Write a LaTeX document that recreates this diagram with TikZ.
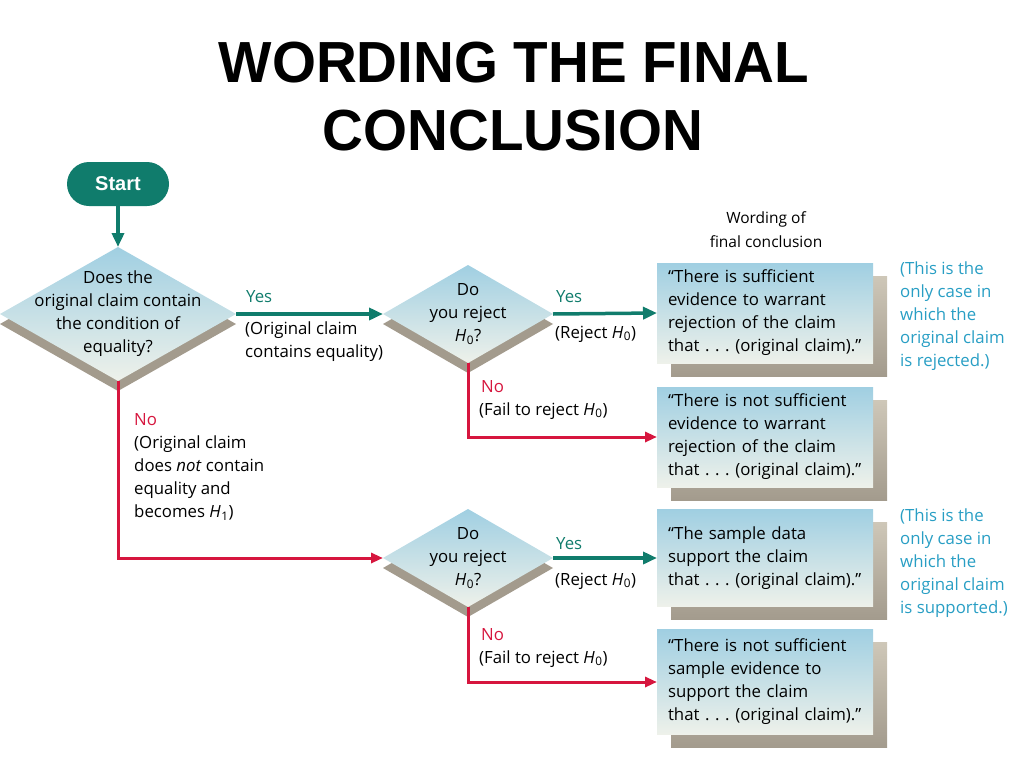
\documentclass[tikz,border=0pt]{standalone}
\usepackage{fontspec}
\setmainfont{Open Sans}
\newfontfamily\titlefont[FakeStretch=0.975]{Liberation Sans}
\newfontfamily\startfont{Liberation Sans}
\usetikzlibrary{shapes.geometric,arrows.meta,positioning}
\definecolor{flowteal}{RGB}{16,124,108}
\definecolor{flowred}{RGB}{214,22,62}
\definecolor{notecyan}{RGB}{40,158,196}
\definecolor{topblue}{RGB}{160,207,226}
\definecolor{paleblue}{RGB}{238,241,234}
\definecolor{shadetan}{RGB}{163,155,141}
\definecolor{shadelight}{RGB}{206,199,184}
\newcommand{\hyp}[1]{\textit{H}\kern0.5pt\textsubscript{#1}}
\frenchspacing

\begin{document}
\begin{tikzpicture}[x=1pt,y=-1pt,
    decision/.style={diamond, inner sep=0pt, outer sep=0pt, top color=topblue, bottom color=paleblue, draw=none},
    dshadow/.style={diamond, inner sep=0pt, outer sep=0pt, fill=shadetan},
    wording/.style={rectangle, inner xsep=11pt, inner ysep=0pt, outer sep=0pt, text width=194pt, minimum width=216pt, align=left, top color=topblue, bottom color=paleblue, font=\fontsize{16.8}{23}\selectfont},
    wshadow/.style={rectangle, inner sep=0pt, minimum width=216pt, top color=shadelight, bottom color=shadetan},
    lbl/.style={inner sep=0pt, align=left, font=\fontsize{16.8}{23}\selectfont},
    yesarrow/.style={draw=flowteal, line width=3.5pt, -{Triangle[length=14pt,width=12pt]}},
    noarrow/.style={draw=flowred, line width=3pt, -{Triangle[length=12pt,width=10pt]}}]

  \useasboundingbox (0,0) rectangle (1024,768);

  % Title
  \node[anchor=base, inner sep=0pt, font=\titlefont\bfseries\fontsize{58}{68}\selectfont] (title1) at (514,82) {WORDING THE FINAL};
  \node[anchor=base, inner sep=0pt, font=\titlefont\bfseries\fontsize{58}{68}\selectfont] (title2) at (513,150) {CONCLUSION};

  % Start
  \node[rounded corners=22pt, fill=flowteal, minimum width=102pt, minimum height=44pt, inner sep=0pt,
        text=white, font=\startfont\bfseries\fontsize{20}{24}\selectfont] (start) at (118,184) {Start};

  % Decision diamonds with their shadows
  \foreach \name/\x/\y/\w/\h in {d1/118/314/236/134, d2/468/314/170/98, d3/468/558/170/98} {
    \node[dshadow, minimum width=\w pt, minimum height=\h pt] at (\x,\y+10) {};
    \node[decision, minimum width=\w pt, minimum height=\h pt] (\name) at (\x,\y) {};
  }
  \node[lbl, align=center] at (d1) {Does the\\original claim contain\\the condition of\\equality?};
  \node[lbl, align=center] at (d2) {Do\\you reject\\\hyp{0}?};
  \node[lbl, align=center] at (d3) {Do\\you reject\\\hyp{0}?};

  % Boxes with the final wording
  \foreach \name/\y/\h/\txt in {b1/313/100/{“There is sufficient\\evidence to warrant\\rejection of the claim\\that . . . (original claim).”},
                               b2/437/100/{“There is not sufficient\\evidence to warrant\\rejection of the claim\\that . . . (original claim).”},
                               b3/558/97/{“The sample data\\support the claim\\that . . . (original claim).”},
                               b4/682/105/{“There is not sufficient\\sample evidence to\\support the claim\\that . . . (original claim).”}} {
    \node[wshadow, minimum height=\h pt] at (779,\y+13) {};
    \node[wording, minimum height=\h pt] (\name) at (765,\y) {\txt};
  }
  \node[lbl, align=center, font=\fontsize{15.5}{24}\selectfont] (head) at (766,230) {Wording of\\final conclusion};

  % Connectors
  \draw[yesarrow] (start.south) -- (d1.north);
  \draw[yesarrow] (d1.east) -- (d2.west);
  \draw[yesarrow] (d2.east) -- (b1.west);
  \draw[noarrow] (d2.south) |- (b2.west);
  \draw[noarrow] (d1.south) |- (d3.west);
  \draw[yesarrow] (d3.east) -- (b3.west);
  \draw[noarrow] (d3.south) |- (b4.west);

  % Connector labels
  \node[lbl, anchor=west, text=flowteal] (yes1) at (246,297) {Yes};
  \node[lbl, anchor=west] (why1) at (245,342) {(Original claim\\contains equality)};
  \node[lbl, anchor=west, text=flowteal] (yes2) at (556,297) {Yes};
  \node[lbl, anchor=west] (rej2) at (555,334) {(Reject \hyp{0})};
  \node[lbl, anchor=west, text=flowred] (no2) at (481,387) {No};
  \node[lbl, anchor=west] (fail2) at (479,411) {(Fail to reject \hyp{0})};
  \node[lbl, anchor=west, text=flowteal] (yes3) at (556,544) {Yes};
  \node[lbl, anchor=west] (rej3) at (555,581) {(Reject \hyp{0})};
  \node[lbl, anchor=west, text=flowred] (no3) at (481,635) {No};
  \node[lbl, anchor=west] (fail3) at (479,659) {(Fail to reject \hyp{0})};
  \node[lbl, anchor=west, text=flowred] (no1) at (134,420) {No};
  \node[lbl, anchor=west] (why2) at (134,478) {(Original claim\\does \textit{not} contain\\equality and\\becomes \hyp{1})};

  % Side notes
  \node[lbl, anchor=north west, text=notecyan] (note1) at (900,262) {(This is the\\only case in\\which the\\original claim\\is rejected.)};
  \node[lbl, anchor=north west, text=notecyan] (note2) at (900,509) {(This is the\\only case in\\which the\\original claim\\is supported.)};
\end{tikzpicture}
\end{document}
